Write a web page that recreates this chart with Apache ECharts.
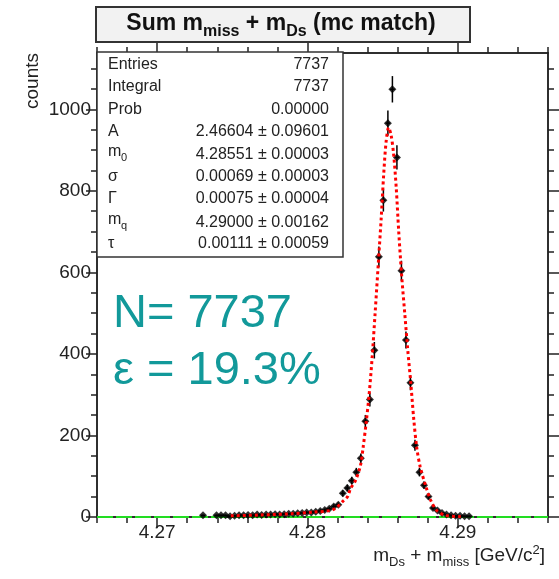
<!DOCTYPE html>
<html><head><meta charset="utf-8">
<script src="https://cdn.jsdelivr.net/npm/echarts@6/dist/echarts.min.js"></script>
<style>html,body{margin:0;padding:0;background:#fff}#c{width:559px;height:579px}</style>
</head><body><div id="c"></div>
<script>
// ---- data ----
const binWidth = 0.0003;
const binCenters = [4.27305, 4.27395, 4.27425, 4.27455, 4.27485, 4.27515, 4.27545, 4.27575, 4.27605, 4.27635,
  4.27665, 4.27695, 4.27725, 4.27755, 4.27785, 4.27815, 4.27845, 4.27875, 4.27905, 4.27935,
  4.27965, 4.27995, 4.28025, 4.28055, 4.28085, 4.28115, 4.28145, 4.28175, 4.28205, 4.28235,
  4.28265, 4.28295, 4.28325, 4.28355, 4.28385, 4.28415, 4.28445, 4.28475, 4.28505, 4.28535,
  4.28565, 4.28595, 4.28625, 4.28655, 4.28685, 4.28715, 4.28745, 4.28775, 4.28805, 4.28835,
  4.28865, 4.28895, 4.28925, 4.28955, 4.28985, 4.29015, 4.29045, 4.29075];
const counts = [4, 4, 4, 4, 2, 3, 4, 4, 5, 4,
  6, 5, 6, 6, 7, 6, 7, 8, 8, 9,
  10, 11, 11, 13, 15, 17, 20, 26, 30, 58,
  71, 89, 110, 144, 235, 288, 409, 638, 777, 966,
  1049, 882, 604, 434, 329, 176, 110, 78, 50, 22,
  16, 10, 6, 4, 3, 3, 2, 2];
const fitX = [4.2749, 4.2769, 4.2789, 4.2804, 4.2817, 4.2824, 4.28267, 4.28287, 4.2832, 4.28353,
  4.2837, 4.2839, 4.2841, 4.2843, 4.2845, 4.2847, 4.2849, 4.28507, 4.28523, 4.2854,
  4.28557, 4.28573, 4.2859, 4.28607, 4.28627, 4.28647, 4.28667, 4.28687, 4.28707, 4.28727,
  4.2875, 4.2879, 4.2882, 4.2886, 4.2892, 4.2902];
const fitY = [3, 5, 8, 12, 18, 40, 50, 70, 90, 127,
  170, 230, 300, 390, 500, 615, 730, 840, 920, 955,
  935, 890, 810, 700, 590, 500, 410, 330, 240, 170,
  123, 72, 41, 16, 4, 1];
const bgX = [4.266, 4.296];
const bgY = [0, 0];
const xRange = [4.266, 4.296];
const yRange = [0, 1138];
const xMajorTicks = [4.27, 4.28, 4.29];
const xMinorTicks = [4.266, 4.268, 4.270, 4.272, 4.274, 4.276, 4.278, 4.280, 4.282, 4.284, 4.286, 4.288, 4.290, 4.292, 4.294, 4.296];
const yMajorTicks = [0, 200, 400, 600, 800, 1000];
const yMinorTicks = [0, 50, 100, 150, 200, 250, 300, 350, 400, 450, 500, 550, 600, 650, 700, 750, 800, 850, 900, 950, 1000, 1050, 1100];
const statsLabels = ['Entries', 'Integral', 'Prob', 'A', 'm', 'σ', 'Γ', 'm', 'τ'];
const statsSubs = ['', '', '', '', '0', '', '', 'q', ''];
const statsValues = ['7737', '7737', '0.00000', '2.46604 ± 0.09601', '4.28551 ± 0.00003', '0.00069 ± 0.00003', '0.00075 ± 0.00004', '4.29000 ± 0.00162', '0.00111 ± 0.00059'];
const nText = 'N= 7737';
const effText = 'ε = 19.3%';

// ---- chart ----
const FONT = '"Liberation Sans", Arial, Helvetica, sans-serif';
const AX = '#222';
const chart = echarts.init(document.getElementById('c'), null, {renderer: 'canvas'});

function xAx(pos, ticks, len, labels) {
  return {type: 'value', position: pos, min: xRange[0], max: xRange[1],
    axisLine: {show: true, onZero: false, lineStyle: {color: AX, width: 1.5}},
    axisTick: {show: true, length: len, customValues: ticks, lineStyle: {color: AX, width: 1.5}},
    axisLabel: {show: labels, customValues: ticks, margin: 6, color: '#222', fontSize: 19, fontFamily: FONT,
      formatter: v => v.toFixed(2)},
    splitLine: {show: false}};
}
function yAx(pos, ticks, len, labels) {
  return {type: 'value', position: pos, min: yRange[0], max: yRange[1],
    axisLine: {show: true, onZero: false, lineStyle: {color: AX, width: 1.5}},
    axisTick: {show: true, length: len, customValues: ticks, lineStyle: {color: AX, width: 1.5}},
    axisLabel: {show: labels, customValues: ticks, margin: 6, color: '#222', fontSize: 19, fontFamily: FONT,
      formatter: v => String(Math.round(v))},
    splitLine: {show: false}};
}

const pts = binCenters.map((x, i) => [x, counts[i]]);

const statsRowY = [65, 87, 110, 132, 152, 177, 199, 220, 244];
const statsValY = [65, 87, 110, 132, 155, 177, 199, 223, 244];
const graphics = [];
// title box
graphics.push({type: 'rect', shape: {x: 96, y: 7, width: 374, height: 35}, style: {fill: '#f2f2f2', stroke: '#333', lineWidth: 2}, z: 100});
graphics.push({type: 'text', x: 281, y: 24, z: 101, style: {
  text: '{b|Sum m}{s|miss}{b| + m}{s|Ds}{b| (mc match)}', align: 'center', verticalAlign: 'middle',
  rich: {b: {fontSize: 23, fontWeight: 'bold', fontFamily: FONT, fill: '#111', lineHeight: 26},
         s: {fontSize: 16, fontWeight: 'bold', fontFamily: FONT, fill: '#111', padding: [15, 0, 0, 0], lineHeight: 16}}}});
// stats box
graphics.push({type: 'rect', shape: {x: 97, y: 52, width: 246, height: 205}, style: {fill: '#fff', stroke: '#333', lineWidth: 1.5}, z: 100});
statsLabels.forEach((t, i) => {
  graphics.push({type: 'text', x: 108, y: statsRowY[i], z: 101, style: {text: t, align: 'left', verticalAlign: 'middle', fontSize: 16, fontFamily: FONT, fill: '#222'}});
  if (statsSubs[i]) graphics.push({type: 'text', x: 121, y: statsRowY[i] + 6, z: 101, style: {text: statsSubs[i], align: 'left', verticalAlign: 'middle', fontSize: 11, fontFamily: FONT, fill: '#222'}});
  graphics.push({type: 'text', x: 329, y: statsValY[i], z: 101, style: {text: statsValues[i], align: 'right', verticalAlign: 'middle', fontSize: 16, fontFamily: FONT, fill: '#222'}});
});
// N and efficiency
graphics.push({type: 'text', x: 113, y: 338, z: 101, style: {text: nText, align: 'left', verticalAlign: 'bottom', fontSize: 47, fontFamily: FONT, fill: '#12999a'}});
graphics.push({type: 'text', x: 113, y: 395, z: 101, style: {text: effText, align: 'left', verticalAlign: 'bottom', fontSize: 47, fontFamily: FONT, fill: '#12999a'}});
// axis titles
graphics.push({type: 'text', x: 33, y: 53, rotation: Math.PI / 2, z: 101, style: {text: 'counts', align: 'right', verticalAlign: 'middle', fontSize: 19, fontFamily: FONT, fill: '#222'}});
graphics.push({type: 'text', x: 545, y: 556, z: 101, style: {
  text: '{m|m}{s|Ds}{m| + m}{s|miss}{m| [GeV/c}{p|2}{m|]}', align: 'right', verticalAlign: 'middle',
  rich: {m: {fontSize: 19, fontFamily: FONT, fill: '#222', lineHeight: 22},
         s: {fontSize: 13, fontFamily: FONT, fill: '#222', padding: [12, 0, 0, 0], lineHeight: 13},
         p: {fontSize: 13, fontFamily: FONT, fill: '#222', padding: [0, 0, 12, 0], lineHeight: 13}}}});

chart.setOption({
  animation: false,
  backgroundColor: '#fff',
  grid: {left: 97, top: 53, right: 11, bottom: 62, containLabel: false},
  xAxis: [xAx('bottom', xMajorTicks, 11, true), xAx('bottom', xMinorTicks, 6, false),
          xAx('top', xMajorTicks, 11, false), xAx('top', xMinorTicks, 6, false)],
  yAxis: [yAx('left', yMajorTicks, 11, true), yAx('left', yMinorTicks, 6, false),
          yAx('right', yMajorTicks, 11, false), yAx('right', yMinorTicks, 6, false)],
  series: [
    {type: 'line', data: bgX.map((x, i) => [x, bgY[i]]), showSymbol: false, z: 2,
      lineStyle: {color: '#22dd22', width: 2, type: [16, 3]}},
    {type: 'custom', z: 4, data: pts, renderItem(params, api) {
      const x = api.value(0), y = api.value(1), e = Math.sqrt(y);
      const p0 = api.coord([x, y - e]), p1 = api.coord([x, y + e]);
      const l = api.coord([x - binWidth / 2, y]), r = api.coord([x + binWidth / 2, y]);
      return {type: 'group', children: [
        {type: 'line', shape: {x1: p0[0], y1: p0[1], x2: p1[0], y2: p1[1]}, style: {stroke: '#000', lineWidth: 1.5}},
        {type: 'line', shape: {x1: l[0], y1: l[1], x2: r[0], y2: r[1]}, style: {stroke: '#000', lineWidth: 1.5}}]};
    }},
    {type: 'scatter', z: 5, data: pts, symbol: 'diamond', symbolSize: 8, itemStyle: {color: '#000'}},
    {type: 'line', z: 6, data: fitX.map((x, i) => [x, fitY[i]]), smooth: 0.3, showSymbol: false,
      lineStyle: {color: '#ff0000', width: 3, type: [3, 3]}}
  ],
  graphic: graphics
});
</script></body></html>
